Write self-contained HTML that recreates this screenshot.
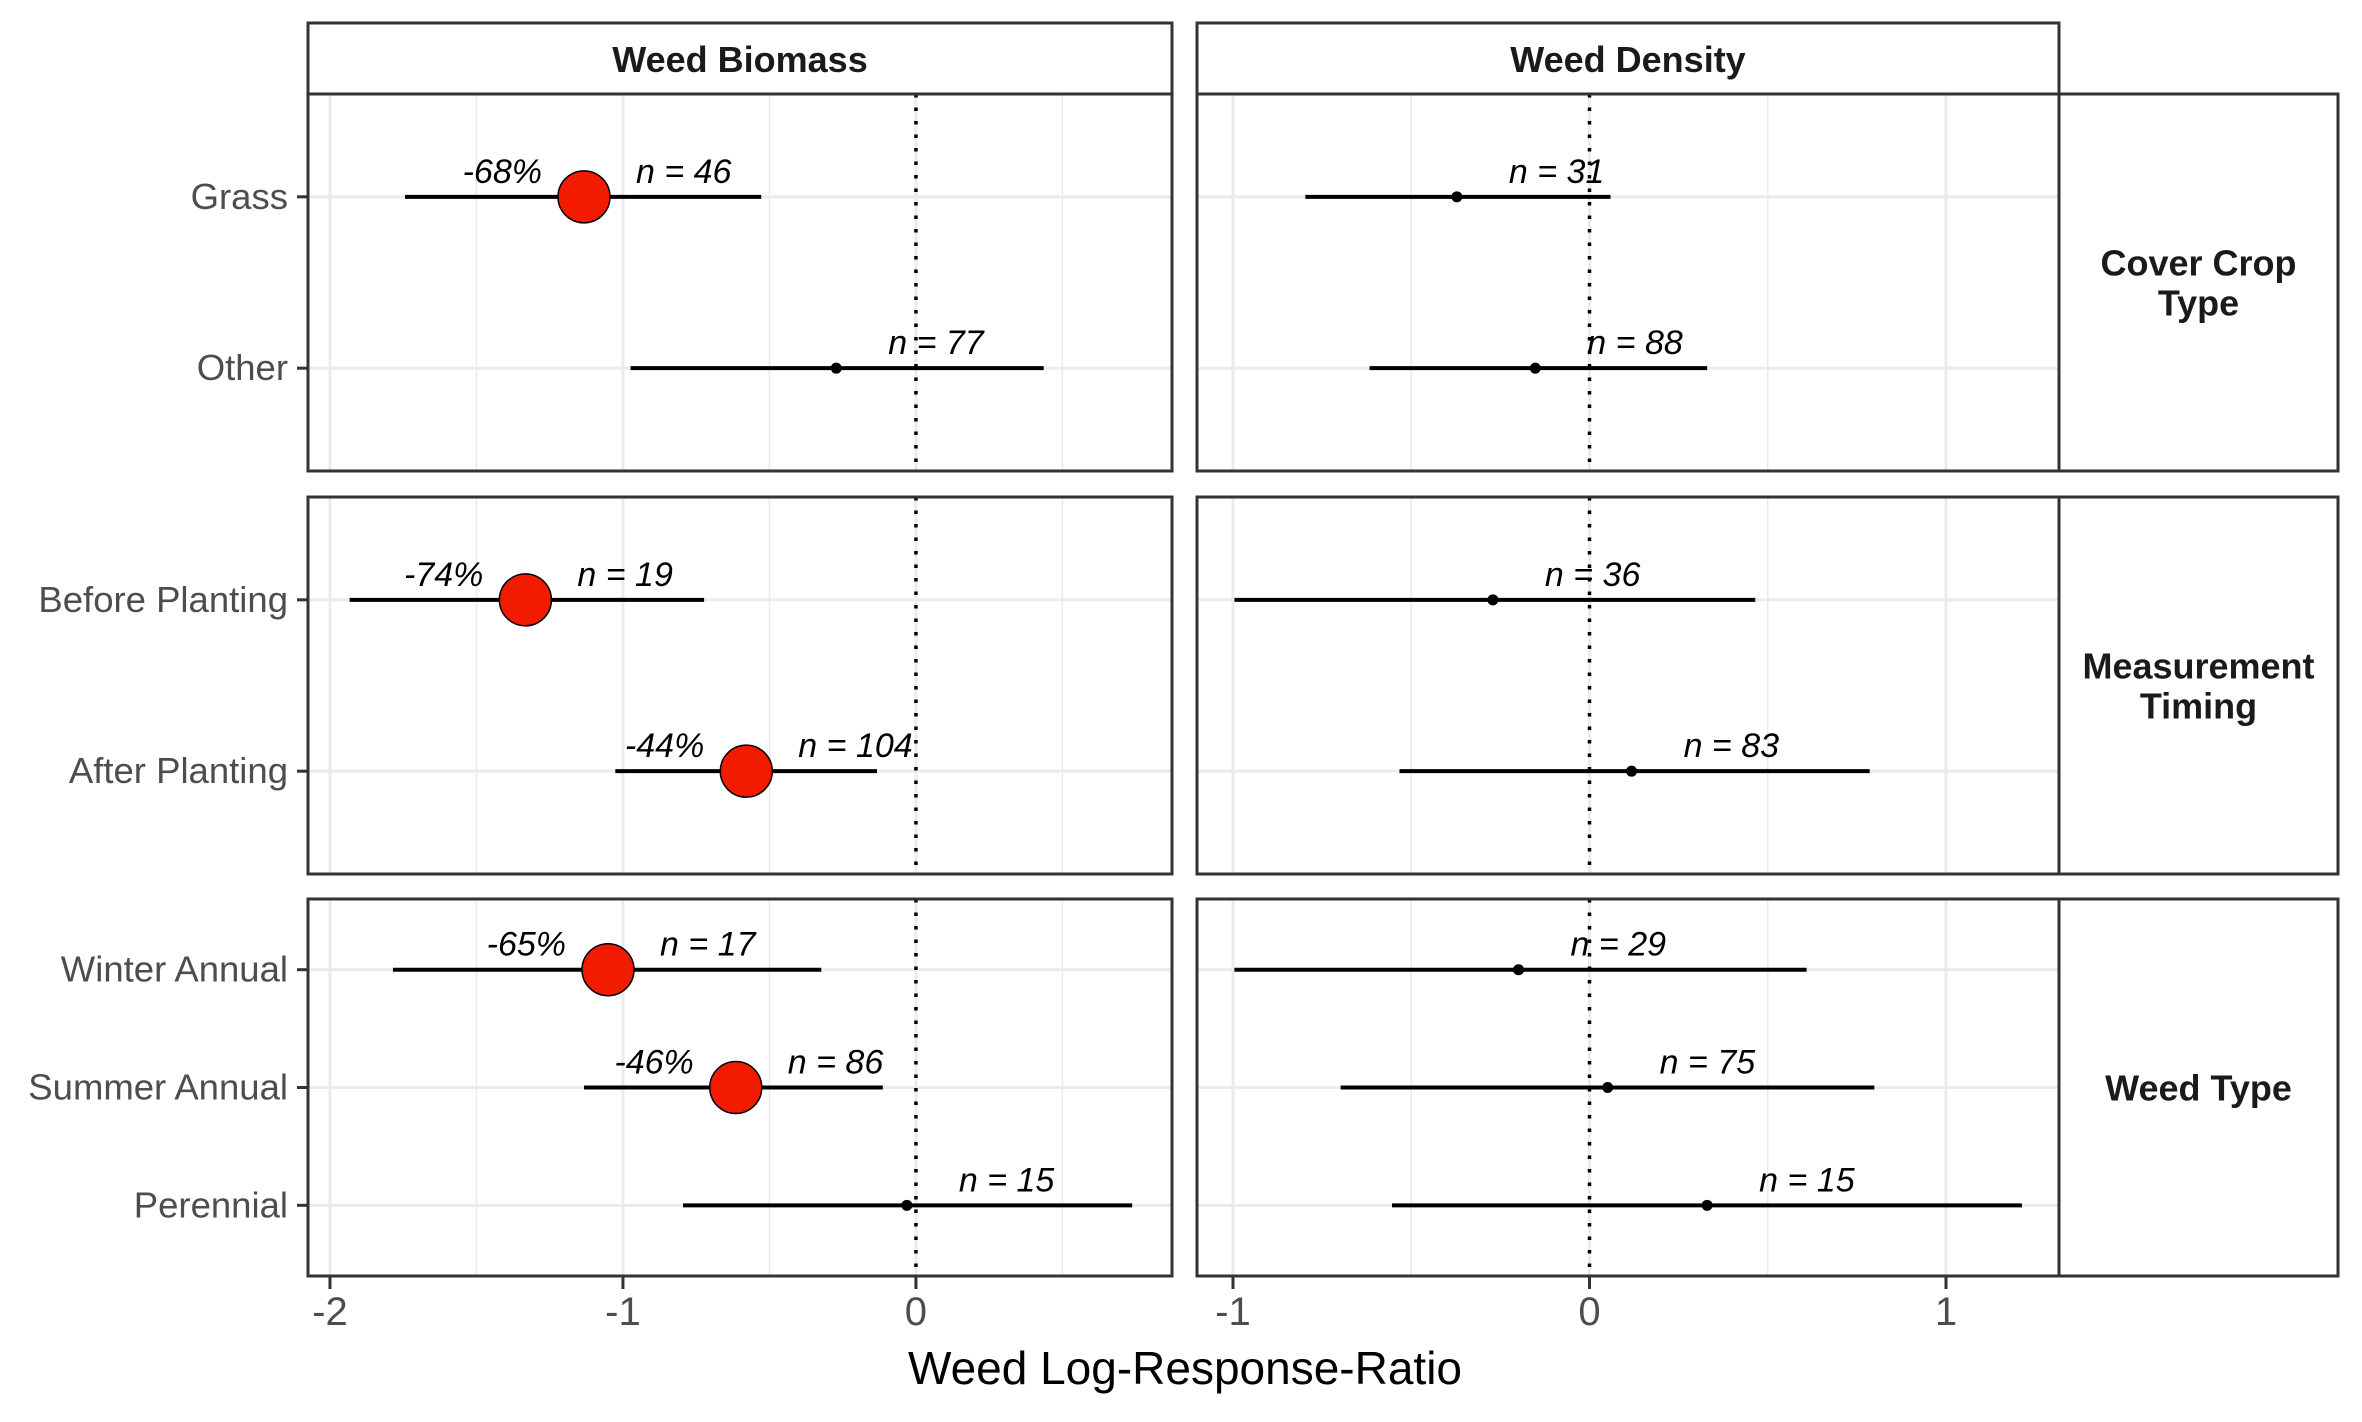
<!DOCTYPE html>
<html><head><meta charset="utf-8"><style>
html,body{margin:0;padding:0;background:#fff;}
svg text{font-family:"Liberation Sans",sans-serif;}
</style></head><body>
<svg id="chart" width="2362" height="1417" viewBox="0 0 2362 1417" xmlns="http://www.w3.org/2000/svg"></svg>
<script>
const groups = ["Cover Crop Type","Measurement Timing","Weed Type"];
const groupLabels = [["Cover Crop","Type"],["Measurement","Timing"],["Weed Type"]];
const categories = [["Grass","Other"],["Before Planting","After Planting"],["Winter Annual","Summer Annual","Perennial"]];
const facets = ["Weed Biomass","Weed Density"];
const bioEst = [[-1.133,-0.272],[-1.333,-0.579],[-1.051,-0.615,-0.031]];
const bioLo  = [[-1.744,-0.974],[-1.933,-1.026],[-1.785,-1.133,-0.795]];
const bioHi  = [[-0.528,0.436],[-0.723,-0.133],[-0.323,-0.113,0.738]];
const bioN   = [[46,77],[19,104],[17,86,15]];
const bioPct = [["-68%",""],["-74%","-44%"],["-65%","-46%",""]];
const denEst = [[-0.372,-0.152],[-0.271,0.118],[-0.199,0.051,0.330]];
const denLo  = [[-0.797,-0.617],[-0.996,-0.533],[-0.996,-0.698,-0.554]];
const denHi  = [[0.059,0.330],[0.465,0.786],[0.609,0.799,1.213]];
const denN   = [[31,88],[36,83],[29,75,15]];
const bioTicks = [-2,-1,0];
const denTicks = [-1,0,1];

const svg = document.getElementById('chart');
const NS = 'http://www.w3.org/2000/svg';
function mk(tag, attrs, parent){const e=document.createElementNS(NS,tag);for(const k in attrs)e.setAttribute(k,attrs[k]);(parent||svg).appendChild(e);return e;}

const panelX = [[308,1172],[1197,2059]];
const domains = [[-2.075,0.874],[-1.101,1.317]];
const rowY = [[94,471],[497,874],[899,1276]];
const stripX = [2059,2338];
function xs(p,v){const [a,b]=panelX[p];const [d0,d1]=domains[p];return a+(v-d0)/(d1-d0)*(b-a);}
function ys(r,i){const [a,b]=rowY[r];const n=categories[r].length;const span=n-1+1.2;return a+(0.6+i)/span*(b-a);}

facets.forEach((f,p)=>{
  const r=mk('rect',{x:panelX[p][0],y:23,width:panelX[p][1]-panelX[p][0],height:71,fill:'#fff',stroke:'#333',"stroke-width":3});
  
  
  const t=mk('text',{x:(panelX[p][0]+panelX[p][1])/2,y:72,"text-anchor":"middle","font-size":36,"font-weight":"bold",fill:'#1a1a1a'});
  t.textContent=f;
  
  
});

groups.forEach((g,r)=>{
  const [y0,y1]=rowY[r];
  const rs=mk('rect',{x:stripX[0],y:y0,width:stripX[1]-stripX[0],height:y1-y0,fill:'#fff',stroke:'#333',"stroke-width":3});
  
  
  const lines=groupLabels[r];const cy=(y0+y1)/2;
  lines.forEach((l,k)=>{
    const t=mk('text',{x:(stripX[0]+stripX[1])/2,y:cy+13+(k-(lines.length-1)/2)*40,"text-anchor":"middle","font-size":36,"font-weight":"bold",fill:'#1a1a1a'});
    t.textContent=l;
    
    
  });
  categories[r].forEach((c,i)=>{
    const y=ys(r,i);
    const t=mk('text',{x:288,y:y+12,"text-anchor":"end","font-size":36.5,fill:'#4d4d4d'});
    t.textContent=c;
    
    
    mk('line',{x1:297,x2:308,y1:y,y2:y,stroke:'#333',"stroke-width":3});
  });
  [0,1].forEach(p=>{
    const [a,b]=panelX[p];
    const ticks=p===0?bioTicks:denTicks;
    const minors=ticks.map(v=>v+0.5).concat([ticks[0]-0.5]);
    minors.forEach(v=>{const x=xs(p,v);if(x>a&&x<b)mk('line',{x1:x,x2:x,y1:y0,y2:y1,stroke:'#ebebeb',"stroke-width":1.5});});
    ticks.forEach(v=>{const x=xs(p,v);mk('line',{x1:x,x2:x,y1:y0,y2:y1,stroke:'#ebebeb',"stroke-width":3});});
    categories[r].forEach((c,i)=>{const y=ys(r,i);mk('line',{x1:a,x2:b,y1:y,y2:y,stroke:'#ebebeb',"stroke-width":3});});
    const z=xs(p,0);
    mk('line',{x1:z,x2:z,y1:y0,y2:y1,stroke:'#000',"stroke-width":3.5,"stroke-dasharray":"3.5 10"});
    const est=p===0?bioEst:denEst, lo=p===0?bioLo:denLo, hi=p===0?bioHi:denHi, nn=p===0?bioN:denN;
    categories[r].forEach((c,i)=>{
      const y=ys(r,i);
      const l=mk('line',{x1:xs(p,lo[r][i]),x2:xs(p,hi[r][i]),y1:y,y2:y,stroke:'#000',"stroke-width":4});
      
      
      const px=xs(p,est[r][i]);
      const big=p===0&&bioPct[r][i]!=="";
      const pt=mk('circle',{cx:px,cy:y,r:big?26:5.5,fill:big?'#f21b00':'#000',stroke:'#000',"stroke-width":big?1.5:0});
      
      
      const nt=mk('text',{x:px+52,y:y-14,"font-size":34,"font-style":"italic",fill:'#000'});
      nt.textContent='n = '+nn[r][i];
      
      
      if(big){
        const pc=mk('text',{x:px-42,y:y-14,"text-anchor":"end","font-size":34,"font-style":"italic",fill:'#000'});
        pc.textContent=bioPct[r][i];
        
        
      }
    });
    const pr=mk('rect',{x:a,y:y0,width:b-a,height:y1-y0,fill:'none',stroke:'#333',"stroke-width":3});
    
    
  });
});
[0,1].forEach(p=>{
  (p===0?bioTicks:denTicks).forEach(v=>{
    const x=xs(p,v);
    mk('line',{x1:x,x2:x,y1:1276,y2:1289,stroke:'#333',"stroke-width":3});
    const t=mk('text',{x:x,y:1325,"text-anchor":"middle","font-size":40,fill:'#4d4d4d'});
    t.textContent=String(v);
    
    
  });
});
const xt=mk('text',{x:1185,y:1384,"text-anchor":"middle","font-size":46,fill:'#000'});
xt.textContent='Weed Log-Response-Ratio';


</script>
</body></html>
